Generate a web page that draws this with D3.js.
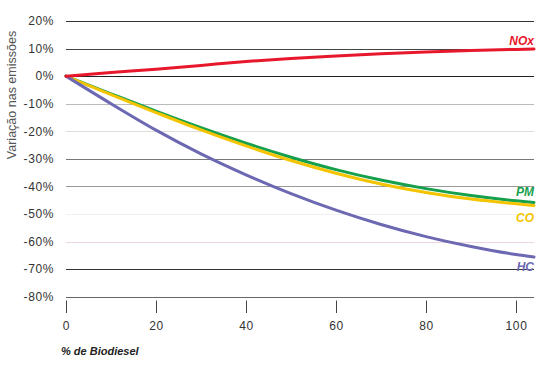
<!DOCTYPE html>
<html>
<head>
<meta charset="utf-8">
<script src="https://cdn.jsdelivr.net/npm/d3@7"></script>
<style>
    body { margin: 0; background: #fff; }
    svg { display: block; font-family: "Liberation Sans", Arial, sans-serif; }
</style>
</head>
<body>
<svg id="chart" width="550" height="370"></svg>
<script>
// ------------------ DATA ------------------

let blendPct = [0, 10, 20, 30, 40, 50, 60, 70, 80, 90, 100, 104];

let noxValues = [0, 1.3, 2.5, 3.9, 5.3, 6.4, 7.3, 8.1, 8.8, 9.3, 9.7, 9.85];
let pmValues = [0, -6.4, -12.7, -18.7, -24.3, -29.4, -33.9, -37.7, -40.8, -43.3, -45.2, -45.8];
let coValues = [0, -6.7, -13.2, -19.5, -25.3, -30.6, -35.2, -39.1, -42.2, -44.6, -46.3, -46.9];
let hcValues = [0, -10, -19.6, -28.2, -35.8, -42.6, -48.6, -53.8, -58.2, -61.8, -64.7, -65.6];

let seriesNames = ["PM", "CO", "HC", "NOx"];
let xTicks = [0, 20, 40, 60, 80, 100];
let yTicks = [20, 10, 0, -10, -20, -30, -40, -50, -60, -70, -80];

// ------------------ STYLE ------------------

let seriesColor = { NOx: "#e8182c", PM: "#16a04c", CO: "#f4c400", HC: "#6c68b2" };
let labelY = { NOx: 45, PM: 196, CO: 222, HC: 271 };
// scanned gridlines come out in uneven shades
let gridColor = ["#333", "#444", "#222", "#bbb", "#ddd", "#777", "#999", "#f0f0f0", "#ecd6e6", "#333", "#666"];

let svg = d3.select("#chart");

// ------------------ SCALES ------------------

let x = d3.scaleLinear().domain([0, 104]).range([66, 534]);
let y = d3.scaleLinear().domain([-80, 20]).range([296.7, 21]);

// ------------------ GRID + AXES ------------------

svg.append("g")
    .selectAll("line")
    .data(yTicks)
    .enter().append("line")
    .attr("x1", x(0))
    .attr("x2", x(104))
    .attr("y1", (d) => Math.round(y(d)) + 0.5)
    .attr("y2", (d) => Math.round(y(d)) + 0.5)
    .attr("stroke", (d, i) => gridColor[i])
    .attr("stroke-width", 1);

let yAxis = svg.append("g")
    .attr("transform", "translate(54,0)")
    .call(d3.axisLeft(y).tickValues(yTicks).tickSize(0).tickPadding(0).tickFormat((d) => d + "%"));
yAxis.select(".domain").remove();
yAxis.selectAll("text")
    .attr("font-size", 12)
    .attr("letter-spacing", 0.6)
    .attr("fill", "#333")
    .attr("font-family", "Liberation Sans, Arial, sans-serif");

let xAxis = svg.append("g")
    .attr("transform", "translate(0,300.5)")
    .call(d3.axisBottom(x).tickValues(xTicks).tickSize(12.5).tickPadding(8).tickFormat(d3.format("d")));
xAxis.select(".domain").remove();
xAxis.selectAll("line").attr("stroke", "#444");
xAxis.selectAll("text")
    .attr("font-size", 12)
    .attr("letter-spacing", 0.6)
    .attr("fill", "#333")
    .attr("font-family", "Liberation Sans, Arial, sans-serif");

// axis titles
svg.append("text")
    .attr("transform", "translate(16,95) rotate(-90)")
    .attr("text-anchor", "middle")
    .attr("font-size", 12.5)
    .attr("fill", "#555")
    .text("Variação nas emissões");

svg.append("text")
    .attr("x", 61)
    .attr("y", 355)
    .attr("font-size", 11)
    .attr("font-weight", "bold")
    .attr("font-style", "italic")
    .attr("fill", "#222")
    .text("% de Biodiesel");

// ------------------ LINES ------------------

function getValues(name) {
    if (name == "NOx") return noxValues;
    if (name == "PM") return pmValues;
    if (name == "CO") return coValues;
    return hcValues;
}

let line = d3.line()
    .x((d) => x(d[0]))
    .y((d) => y(d[1]))
    .curve(d3.curveMonotoneX);

svg.append("g")
    .selectAll("path")
    .data(seriesNames)
    .enter().append("path")
    .attr("fill", "none")
    .attr("stroke", (d) => seriesColor[d])
    .attr("stroke-width", 3)
    .attr("stroke-linecap", "round")
    .attr("d", (d) => line(d3.zip(blendPct, getValues(d))));

svg.append("g")
    .selectAll("text")
    .data(seriesNames)
    .enter().append("text")
    .attr("x", 534)
    .attr("y", (d) => labelY[d])
    .attr("text-anchor", "end")
    .attr("font-size", 12)
    .attr("font-weight", "bold")
    .attr("font-style", "italic")
    .attr("fill", (d) => seriesColor[d])
    .text((d) => d);
</script>
</body>
</html>
